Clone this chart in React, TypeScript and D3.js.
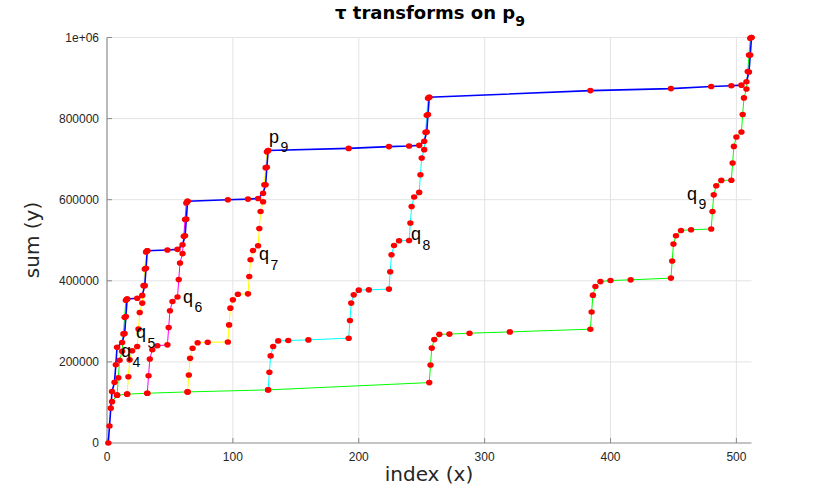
import React from "react";
import * as d3 from "d3";

// p9 curve (index is 1-based)
const pX = [1,2,3,4,6,7,8,12,14,15,16,24,28,30,31,32,48,56,60,62,63,64,96,112,120,124,126,127,128,192,224,240,248,252,254,255,256,384,448,480,496,504,508,510,511,512];
const pY = [0,42000,86000,127000,150000,193000,236000,248000,270000,312000,355000,357000,364000,388000,431000,474000,476000,477500,489000,511000,552000,596000,600000,601500,603000,616000,637000,680000,721500,726500,731000,732500,734000,744000,767000,810000,852500,869000,874000,879000,881000,882500,891000,915000,957000,1000000];

const q9X = [4,8,16,32,64,128,256,257,258,260,264,272,288,320,384,385,386,388,392,400,416,448,449,450,452,456,464,480,481,482,484,488,496,497,498,500,504,505,506,508,509,510,511,512];
const q9Y = [102000,118000,120500,122700,126000,131000,149000,192500,234000,255000,268000,268500,270800,274000,280700,323000,364600,386000,398000,400700,402400,406600,449000,490600,511000,524000,526000,527600,571000,612000,634500,647600,648000,690500,731500,754800,767000,810000,851000,873000,916000,957000,998000,1000000];

const q8X = [128,129,130,132,136,144,160,192,193,194,196,200,208,224,225,226,228,232,240,241,242,244,248,249,250,252,253,254,255,256];
const q8Y = [131000,174500,214800,237800,251800,252600,254300,258500,302000,345000,365400,377000,377700,379500,422200,464200,487100,498700,499500,542400,583400,606600,618000,661700,702900,723400,766400,808000,850000,852500];

const q7X = [64,65,66,68,72,80,96,97,98,100,104,112,113,114,116,120,121,122,124,125,126,127,128];
const q7Y = [126000,167700,208800,233500,247300,248500,249000,291300,332500,353000,367000,367800,410500,451900,474800,486400,528900,570900,595000,637000,679000,718000,721500];

const q6X = [32,33,34,36,40,48,49,50,52,56,57,58,60,61,62,63,64];
const q6Y = [122700,165700,207000,230000,240000,242000,285000,326000,349000,360000,403000,444000,467000,510000,551000,592000,596000];

const q5X = [16,17,18,20,24,25,26,28,29,30,31,32];
const q5Y = [120500,163500,205000,227500,238000,281000,322000,345000,388000,429000,471000,474000];

const q4X = [8,9,10,12,13,14,15,16];
const q4Y = [118000,161000,204000,226000,269000,310000,352000,355000];

const xTicks = [0, 100, 200, 300, 400, 500];
const yTicks = [0, 200000, 400000, 600000, 800000, 1000000];
const yTickLabels = ["0", "200000", "400000", "600000", "800000", "1e+06"];

const qSeries = [
  { name: "9", xs: q9X, ys: q9Y, color: "#00ff00" },
  { name: "8", xs: q8X, ys: q8Y, color: "#00ffff" },
  { name: "7", xs: q7X, ys: q7Y, color: "#ffff00" },
  { name: "6", xs: q6X, ys: q6Y, color: "#ff00ff" },
  { name: "5", xs: q5X, ys: q5Y, color: "#ffff00" },
  { name: "4", xs: q4X, ys: q4Y, color: "#00ff00" },
];

const labels = [
  { main: "p", sub: "9", x: 269, y: 143, sy: 152 },
  { main: "q", sub: "9", x: 687, y: 200, sy: 209 },
  { main: "q", sub: "8", x: 411, y: 240, sy: 250 },
  { main: "q", sub: "7", x: 259, y: 260, sy: 270 },
  { main: "q", sub: "6", x: 183, y: 303, sy: 312 },
  { main: "q", sub: "5", x: 136, y: 338, sy: 348 },
  { main: "q", sub: "4", x: 121, y: 357, sy: 367 },
];

export default function App() {
  const W = 830, H = 498;
  const L = 107, R = 751.5, T = 37.5, B = 443;
  const x = d3.scaleLinear().domain([0, 512]).range([L, R]);
  const y = d3.scaleLinear().domain([0, 1000000]).range([B, T]);
  const line = d3.line<[number, number]>().x(d => x(d[0])).y(d => y(d[1]));
  const pts = (xs: number[], ys: number[]) => xs.map((v, i) => [v, ys[i]] as [number, number]);
  const allPts: [number, number][] = [];
  qSeries.forEach(s => allPts.push(...pts(s.xs, s.ys)));
  allPts.push(...pts(pX, pY));
  const font = "'Liberation Sans', Arial, sans-serif";
  return (
    <svg width={W} height={H} style={{ position: "absolute", left: 0, top: 0, background: "#fff" }}>
      {xTicks.slice(1).map(t => (
        <line key={"gx" + t} x1={x(t)} x2={x(t)} y1={T} y2={B} stroke="#e3e3e3" strokeWidth={1} />
      ))}
      {yTicks.slice(1).map(t => (
        <line key={"gy" + t} x1={L} x2={R} y1={y(t)} y2={y(t)} stroke="#e3e3e3" strokeWidth={1} />
      ))}
      <line x1={L} x2={L} y1={T} y2={B} stroke="#8a8a8a" strokeWidth={1.2} />
      <line x1={L} x2={R} y1={B} y2={B} stroke="#8a8a8a" strokeWidth={1.2} />
      {xTicks.map(t => (
        <g key={"tx" + t}>
          <line x1={x(t)} x2={x(t)} y1={B} y2={B - 5} stroke="#8a8a8a" />
          <text x={x(t)} y={461} textAnchor="middle" fontFamily={font} fontSize={12} fill="#262626">{t}</text>
        </g>
      ))}
      {yTicks.map((t, i) => (
        <g key={"ty" + t}>
          <line x1={L} x2={L + 5} y1={y(t)} y2={y(t)} stroke="#8a8a8a" />
          <text x={99} y={y(t) + 4.3} textAnchor="end" fontFamily={font} fontSize={12} fill="#262626">{yTickLabels[i]}</text>
        </g>
      ))}
      {qSeries.map(s => (
        <path key={"q" + s.name} d={line(pts(s.xs, s.ys)) || ""} fill="none" stroke={s.color} strokeWidth={1} />
      ))}
      <path d={line(pts(pX, pY)) || ""} fill="none" stroke="#0000ff" strokeWidth={1.6} />
      {allPts.map((d, i) => (
        <ellipse key={"d" + i} cx={x(d[0])} cy={y(d[1])} rx={3.2} ry={2.8} fill="#ff0000" />
      ))}
      {labels.map((l, i) => (
        <g key={"l" + i} fontFamily={font} fill="#000">
          <text x={l.x} y={l.y} fontSize={18}>{l.main}</text>
          <text x={l.x + 11.5} y={l.sy} fontSize={14}>{l.sub}</text>
        </g>
      ))}
      <text x={430} y={19} textAnchor="middle" fontFamily="'DejaVu Sans', sans-serif" fontWeight="bold" fontSize={18} fill="#000">
        <tspan>τ transforms on p</tspan>
        <tspan fontSize={14} dy={7}>9</tspan>
      </text>
      <text x={429} y={481} textAnchor="middle" fontFamily="'DejaVu Sans', sans-serif" fontSize={20} fill="#262626">index (x)</text>
      <text transform={`translate(39,240) rotate(-90)`} textAnchor="middle" fontFamily="'DejaVu Sans', sans-serif" fontSize={20} fill="#262626">sum (y)</text>
    </svg>
  );
}
